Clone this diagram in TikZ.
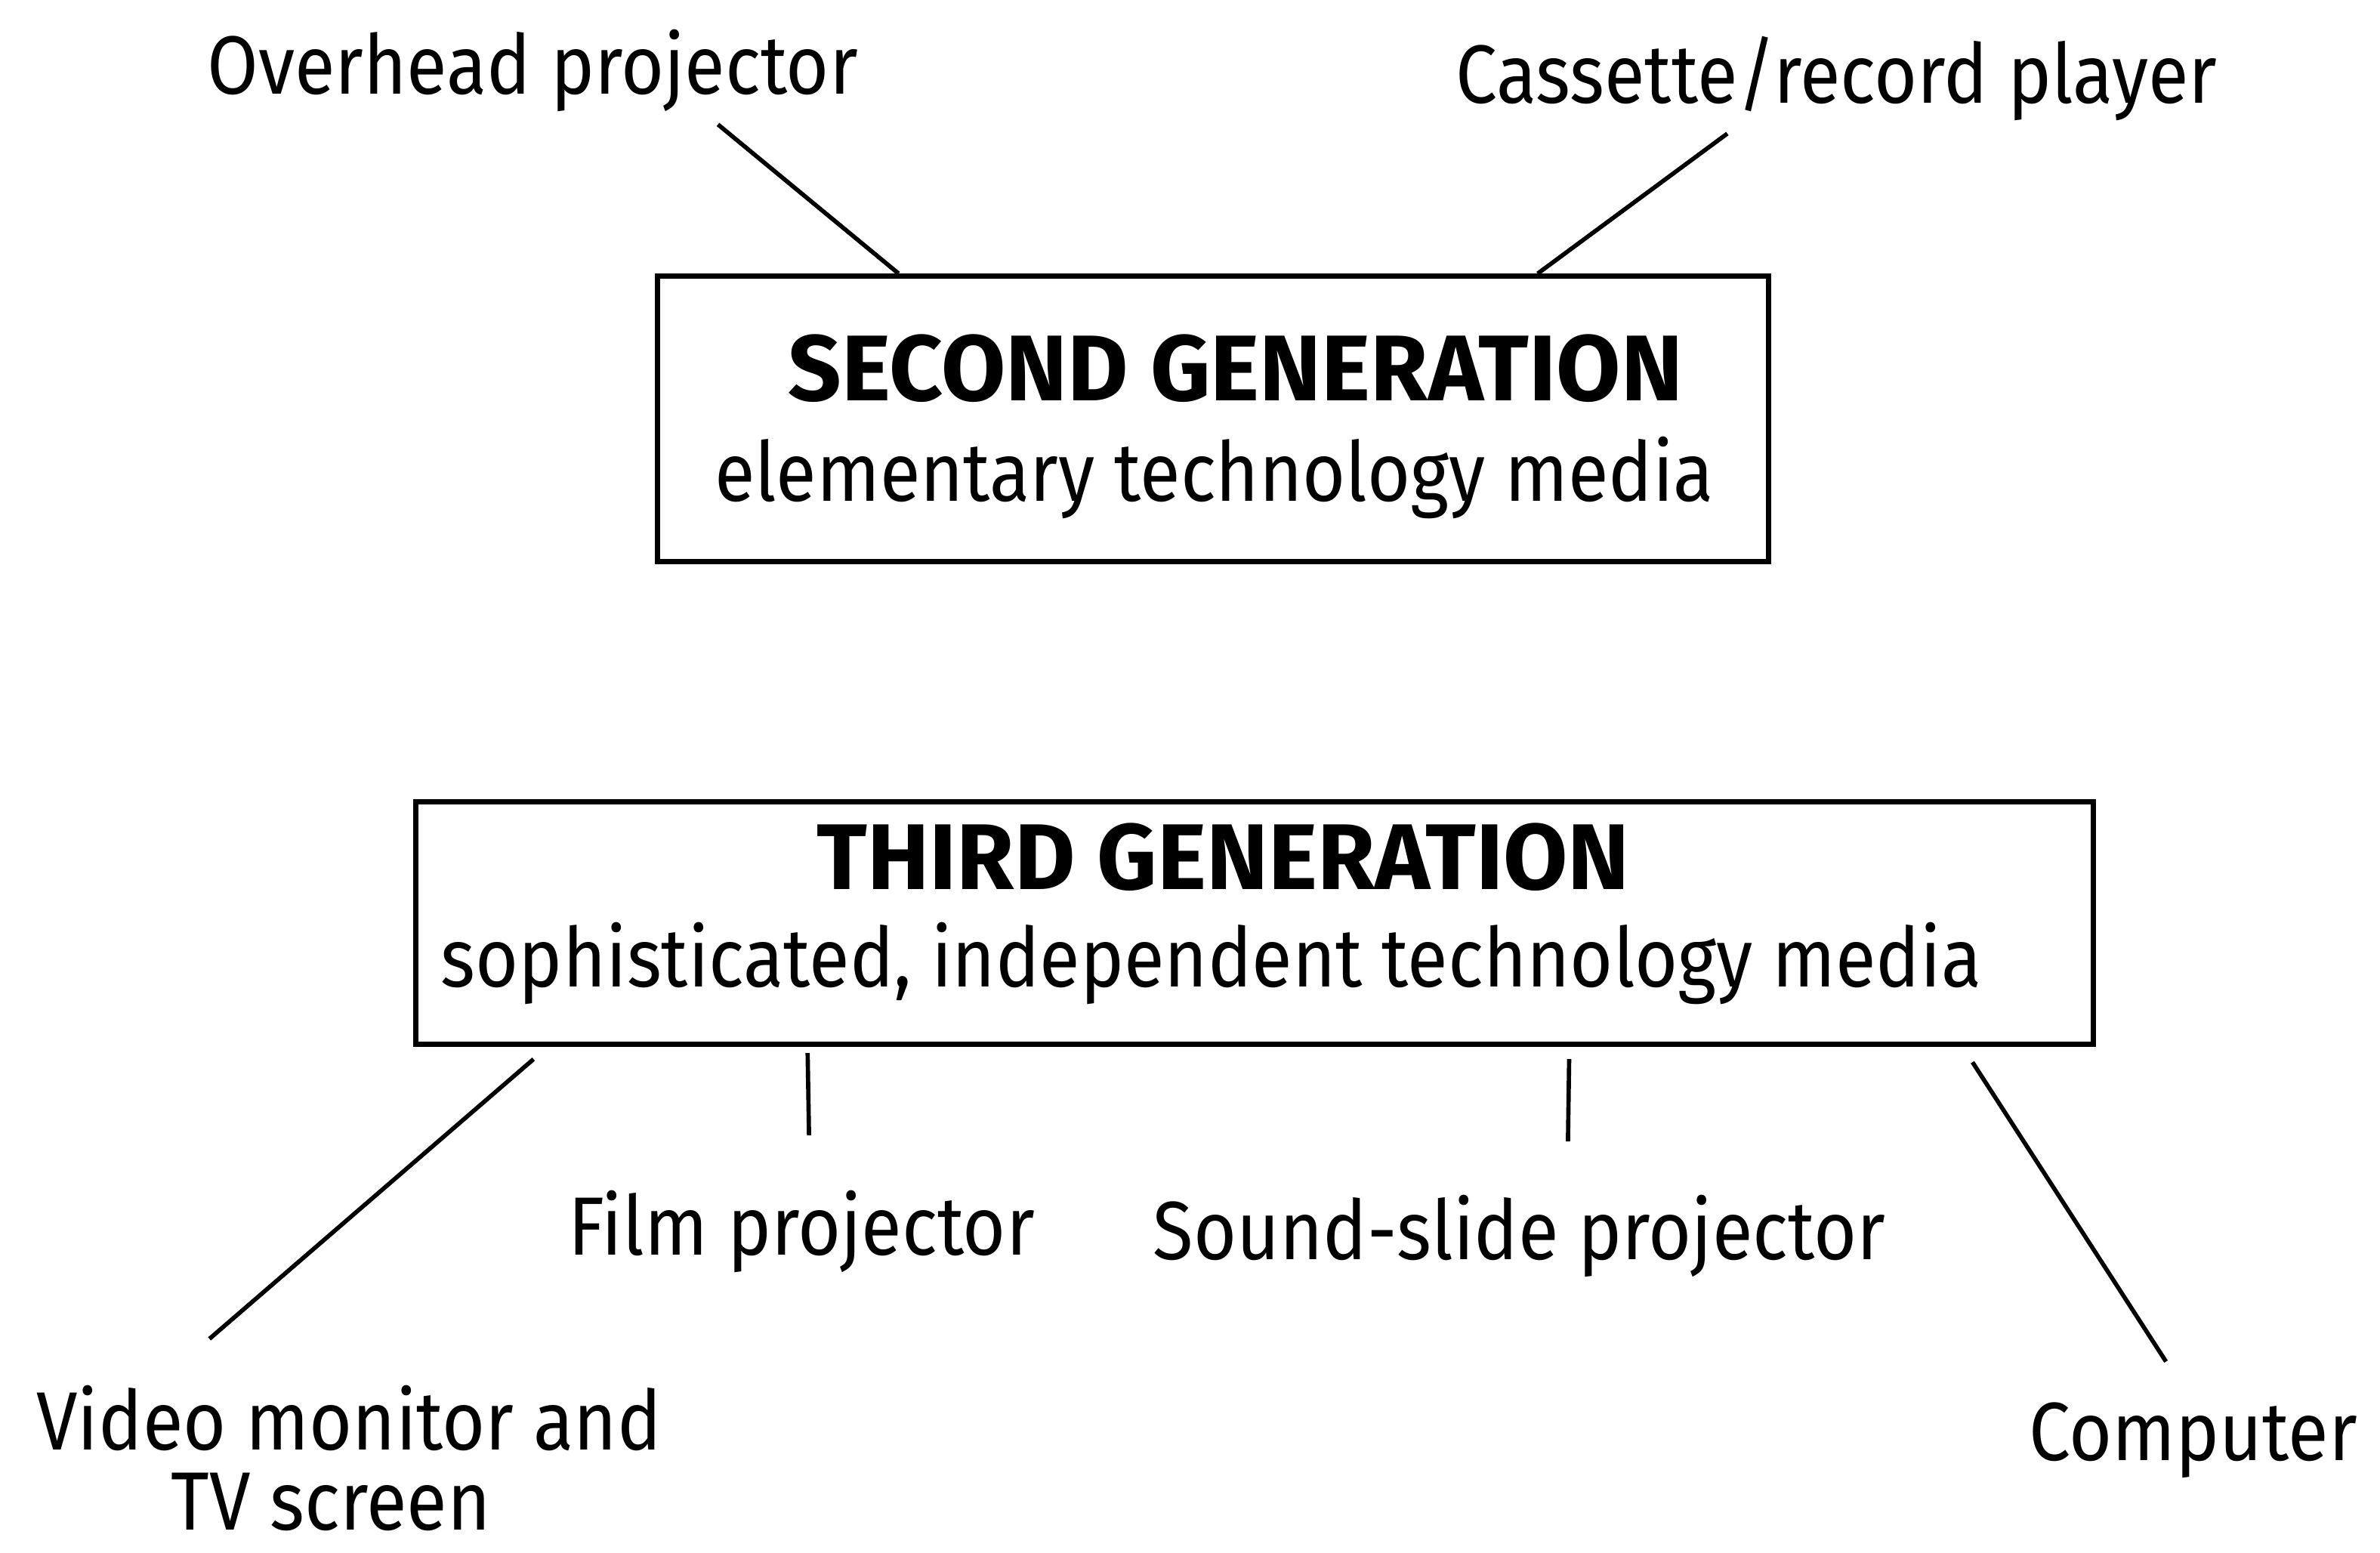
\documentclass[tikz,border=0pt]{standalone}
\usepackage{fontspec}
\setmainfont[FakeStretch=0.895, BoldFeatures={FakeStretch=1.0}]{Fira Sans}
\usetikzlibrary{calc}
\begin{document}
\begin{tikzpicture}[x=0.02cm,y=-0.02cm,
  label/.style={inner sep=0pt, anchor=base, font=\fontsize{31}{36}\selectfont},
  genbox/.style={draw, line width=2pt, inner sep=0pt},
  title/.style={font=\bfseries\fontsize{35}{40}\selectfont},
  link/.style={line width=1.6pt}]
\useasboundingbox (0,0) rectangle (1568,1023);

% second generation box
\node[genbox, minimum width=732*0.02cm, minimum height=188*0.02cm] (g2) at (799,276) {};
\node[label, title] (g2t) at (814,264) {SECOND GENERATION};
\node[label] (g2s) at (800,330) {elementary technology media};

% third generation box
\node[genbox, minimum width=1105*0.02cm, minimum height=160*0.02cm] (g3) at (826.5,608) {};
\node[label, title] (g3t) at (806,586) {THIRD GENERATION};
\node[label] (g3s) at (798,650) {sophisticated, independent technology media};

% media labels
\node[label] (ohp) at (351,62) {Overhead projector};
\node[label] (cas) at (1210,68) {Cassette/record player};
\node[label] (film) at (528,827) {Film projector};
\node[label] (snd) at (1001,830) {Sound-slide projector};
\node[label] (vid) at (230,955) {Video monitor and};
\node[label] (tv) at (218,1008) {TV screen};
\node[label] (comp) at (1445,962) {Computer};

% free ends of the connectors next to the labels
\coordinate (ohpE) at (473,82);
\coordinate (casE) at (1138,88);
\coordinate (filmE) at (533,748);
\coordinate (sndE) at (1033,752);
\coordinate (vidE) at (138,882);
\coordinate (compE) at (1427,897);

% connectors
\draw[link] (ohpE) -- ($(g2.north west)!0.2186!(g2.north east)$);
\draw[link] (casE) -- ($(g2.north west)!0.791!(g2.north east)$);
\draw[link] (vidE) -- ($(g3.south west)!0.0715!(g3.south east)+(0,8)$);
\draw[link] (filmE) -- ($(g3.south west)!0.2344!(g3.south east)+(0,4)$);
\draw[link] (sndE) -- ($(g3.south west)!0.687!(g3.south east)+(0,8)$);
\draw[link] (compE) -- ($(g3.south west)!0.9267!(g3.south east)+(0,10)$);
\end{tikzpicture}
\end{document}
